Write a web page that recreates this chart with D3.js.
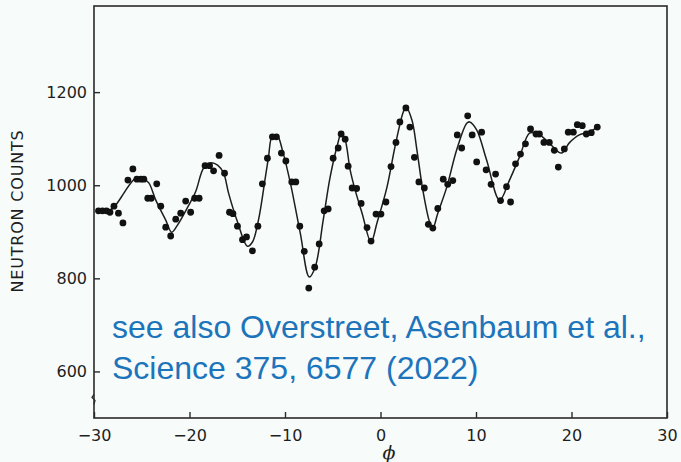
<!DOCTYPE html>
<meta charset="utf-8">
<style>
body {
	margin: 0;
	background: #f7fbf9;
}
svg {
	background: #f7fbf9;
	display: block;
}
.frame {
	fill: none;
	stroke: #2a2a2a;
	stroke-width: 1.6px;
}
.axis path {
	display: none;
}
.axis line {
	stroke: #2a2a2a;
	stroke-width: 1.4px;
}
.axis text {
	font: 16px "DejaVu Sans", sans-serif;
	fill: #1e1e1e;
}
.fit {
	fill: none;
	stroke: #1e1e1e;
	stroke-width: 1.5px;
}
.dot {
	fill: #111;
}
.note {
	font: 32px "Liberation Sans", Arial, sans-serif;
	fill: #1c74bb;
}
</style>
<body>
<script src="https://cdn.jsdelivr.net/npm/d3@7"></script>
<script>

// measured points (phase, counts)
var phiData = [-29.53, -29.11, -28.70, -28.33, -27.91, -27.44, -26.97, -26.45, -25.93, -25.51,
	-25.09, -24.78, -24.37, -24.00, -23.43, -23.01, -22.49, -21.97, -21.44, -20.92,
	-20.40, -19.88, -19.46, -18.99, -18.37, -17.90, -17.48, -16.90, -16.33, -15.81,
	-15.45, -14.98, -14.45, -14.03, -13.41, -12.84, -12.37, -11.84, -11.32, -10.90,
	-10.38, -9.91, -9.29, -8.87, -8.45, -7.98, -7.51, -6.89, -6.42, -5.90,
	-5.48, -4.96, -4.43, -4.12, -3.70, -3.39, -2.97, -2.50, -2.03, -1.41,
	-0.99, -0.47, 0.05, 0.57, 1.10, 1.62, 2.03, 2.66, 3.08, 3.55,
	4.02, 4.59, 5.01, 5.48, 6.00, 6.57, 7.04, 7.57, 8.04, 8.50,
	9.13, 9.60, 10.07, 10.59, 11.06, 11.58, 12.05, 12.57, 13.20, 13.62,
	14.14, 14.66, 15.18, 15.71, 16.28, 16.64, 17.11, 17.68, 18.20, 18.62,
	19.25, 19.66, 20.19, 20.61, 21.13, 21.55, 22.07, 22.70];
var countData = [945, 945, 945, 942, 955, 940, 919, 1011, 1035, 1013,
	1013, 1013, 972, 972, 1003, 955, 910, 891, 927, 940,
	966, 942, 972, 972, 1042, 1042, 1031, 1064, 1026, 942,
	939, 912, 883, 889, 859, 912, 1003, 1058, 1104, 1104,
	1069, 1052, 1007, 1007, 912, 858, 779, 824, 874, 945,
	949, 1058, 1080, 1110, 1099, 1041, 994, 993, 961, 909,
	880, 938, 938, 964, 1040, 1092, 1136, 1166, 1125, 1060,
	1007, 994, 916, 908, 950, 1013, 1002, 1010, 1108, 1080,
	1149, 1108, 1050, 1114, 1033, 1002, 1024, 967, 997, 964,
	1046, 1067, 1089, 1121, 1110, 1110, 1092, 1092, 1075, 1039,
	1078, 1114, 1114, 1130, 1128, 1110, 1113, 1125];

// fitted curve
var fitPhi = [-29.69, -28.54, -27.91, -26.87, -26.14, -25.62, -24.78, -24.26, -23.53, -22.49,
	-21.86, -21.24, -20.19, -19.36, -18.52, -17.79, -17.06, -16.43, -15.91, -14.97,
	-13.93, -13.41, -12.78, -12.05, -11.74, -11.32, -10.80, -10.28, -9.44, -8.40,
	-7.46, -6.84, -6.00, -5.27, -4.43, -4.12, -3.70, -3.18, -2.66, -1.93,
	-0.99, -0.37, 0.68, 1.51, 2.35, 2.66, 3.29, 3.81, 4.43, 5.17,
	5.48, 6.00, 6.94, 7.98, 9.03, 9.34, 10.07, 11.11, 12.47, 13.51,
	14.56, 15.60, 16.33, 16.96, 17.90, 18.94, 19.77, 20.82, 21.86, 22.59];
var fitCounts = [942, 945, 953, 983, 1005, 1015, 1013, 1005, 968, 925,
	899, 915, 953, 986, 1037, 1048, 1043, 1026, 983, 921,
	869, 878, 925, 1018, 1058, 1106, 1106, 1076, 1005, 897,
	803, 824, 925, 1018, 1093, 1112, 1097, 1033, 990, 940,
	878, 919, 996, 1082, 1155, 1168, 1140, 1076, 990, 919,
	908, 940, 996, 1076, 1133, 1136, 1119, 1054, 968, 1011,
	1061, 1112, 1112, 1104, 1086, 1069, 1091, 1108, 1114, 1123];

var xTicks = [-30, -20, -10, 0, 10, 20, 30];
var yTicks = [600, 800, 1000, 1200];
var noteLines = ["see also Overstreet, Asenbaum et al.,", "Science 375, 6577 (2022)"];

var width = 681, height = 462;
var margin = {top: 6, right: 667, bottom: 418, left: 94};

var x = d3.scaleLinear()
	.domain([-30, 30])
	.range([margin.left, margin.right]);

var y = d3.scaleLinear()
	.domain([500, 1385])
	.range([margin.bottom, margin.top]);

var svg = d3.select("body").append("svg")
	.attr("width", width)
	.attr("height", height);

svg.append("g")
	.attr("class", "x axis")
	.attr("transform", "translate(0," + margin.bottom + ")")
	.call(d3.axisBottom(x).tickValues(xTicks).tickSize(-6).tickPadding(12).tickFormat(d3.format("d")));

svg.append("g")
	.attr("class", "y axis")
	.attr("transform", "translate(" + margin.left + ",0)")
	.call(d3.axisLeft(y).tickValues(yTicks).tickSize(-6).tickPadding(7).tickFormat(d3.format("d")));

svg.append("rect")
	.attr("class", "frame")
	.attr("x", margin.left)
	.attr("y", margin.top)
	.attr("width", margin.right - margin.left)
	.attr("height", margin.bottom - margin.top);

// small break mark on the count axis
var by = y(540);
svg.append("path")
	.attr("d", "M" + margin.left + "," + (by - 5) + " l-2,3 l3,3 l-1,4")
	.attr("fill", "none")
	.attr("stroke", "#2a2a2a")
	.attr("stroke-width", 1.3);

var fit = fitPhi.map(function(p, i) { return [p, fitCounts[i]]; });

svg.append("path")
	.datum(fit)
	.attr("class", "fit")
	.attr("d", d3.line()
		.x(function(d) { return x(d[0]); })
		.y(function(d) { return y(d[1]); })
		.curve(d3.curveCatmullRom.alpha(0.5)));

svg.selectAll(".dot")
	.data(phiData)
	.enter().append("circle")
	.attr("class", "dot")
	.attr("cx", function(d) { return x(d); })
	.attr("cy", function(d, i) { return y(countData[i]); })
	.attr("r", 3.4);

svg.append("text")
	.attr("transform", "translate(23," + 211 + ") rotate(-90)")
	.attr("text-anchor", "middle")
	.style("font", "16px 'DejaVu Sans', sans-serif")
	.style("letter-spacing", "0.8px")
	.style("fill", "#1e1e1e")
	.text("NEUTRON COUNTS");

svg.append("text")
	.attr("x", 389)
	.attr("y", 459)
	.attr("text-anchor", "middle")
	.style("font", "italic 19px 'DejaVu Serif', serif")
	.style("fill", "#1e1e1e")
	.text("\u03d5");

svg.selectAll(".note")
	.data(noteLines)
	.enter().append("text")
	.attr("class", "note")
	.attr("x", 112)
	.attr("y", function(d, i) { return 338 + i * 41; })
	.text(function(d) { return d; });

</script>
